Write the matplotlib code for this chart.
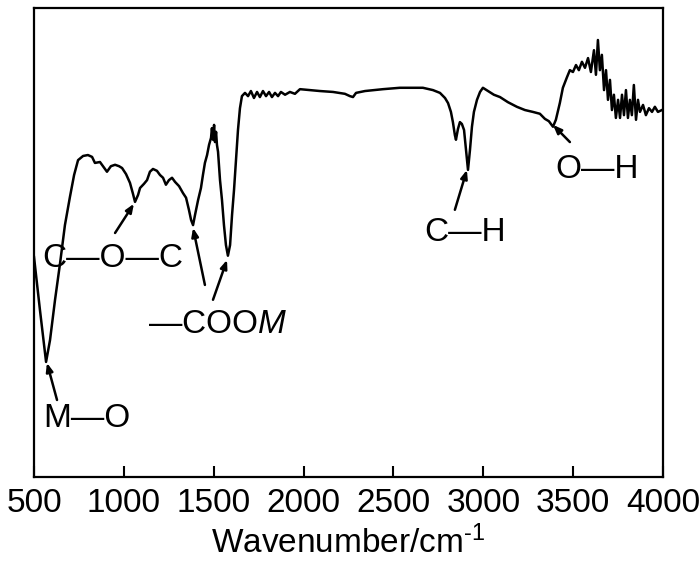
import matplotlib
matplotlib.use("Agg")
import matplotlib.pyplot as plt
import numpy as np

plt.rcParams['font.family'] = ['Liberation Sans', 'DejaVu Sans']
plt.rcParams['mathtext.fontset'] = 'custom'
plt.rcParams['mathtext.rm'] = 'Liberation Sans'
plt.rcParams['mathtext.it'] = 'Liberation Sans:italic'

# FTIR spectrum (wavenumber in cm-1, transmittance a.u.)
wavenumber = [500, 533, 567, 589, 617, 645, 672, 700, 723, 745, 773, 800, 823, 839, 867,
              884, 906, 928, 951, 973, 990, 1012, 1034, 1051, 1062, 1079, 1090, 1112, 1129,
              1145, 1162, 1184, 1201, 1218, 1234, 1251, 1268, 1285, 1307, 1329, 1346, 1362,
              1374, 1385, 1396, 1413, 1429, 1440, 1451, 1463, 1474, 1485, 1490, 1496, 1502,
              1507, 1513, 1518, 1524, 1535, 1546, 1557, 1568, 1579, 1591, 1602, 1613, 1624,
              1635, 1646, 1657, 1674, 1691, 1707, 1724, 1741, 1757, 1774, 1791, 1808, 1824,
              1841, 1858, 1874, 1897, 1924, 1952, 1980, 2036, 2091, 2164, 2230, 2258, 2275,
              2292, 2342, 2442, 2536, 2664, 2720, 2759, 2787, 2804, 2820, 2831, 2842, 2848,
              2859, 2870, 2881, 2893, 2904, 2915, 2926, 2937, 2948, 2965, 2982, 2998, 3026,
              3059, 3093, 3137, 3187, 3232, 3276, 3315, 3343, 3365, 3388, 3404, 3426, 3443,
              3466, 3482, 3499, 3516, 3532, 3549, 3566, 3583, 3599, 3616, 3627, 3638, 3649,
              3660, 3672, 3683, 3694, 3705, 3716, 3727, 3738, 3750, 3761, 3772, 3783, 3794,
              3805, 3816, 3827, 3838, 3850, 3861, 3872, 3889, 3905, 3922, 3939, 3955, 3972,
              3994]
transmittance = [46.3, 34.9, 23.7, 28.4, 37.1, 45.0, 53.2, 59.3, 64.0, 67.2, 68.1, 68.3, 67.9,
                 66.6, 66.8, 65.9, 64.7, 65.9, 66.2, 65.9, 65.5, 64.2, 62.3, 59.9, 58.2, 59.7,
                 61.2, 62.1, 62.9, 64.7, 65.3, 64.9, 64.0, 63.4, 61.9, 62.9, 63.4, 62.5, 61.6,
                 60.1, 59.1, 56.5, 54.3, 53.2, 55.4, 58.6, 61.2, 64.0, 66.6, 68.3, 70.5, 72.0,
                 74.1, 71.6, 74.8, 71.1, 73.3, 70.5, 69.0, 62.9, 58.6, 53.2, 48.9, 46.6, 48.9,
                 55.4, 60.8, 67.2, 73.7, 78.4, 81.0, 81.7, 81.0, 82.1, 80.6, 81.9, 80.8, 82.1,
                 81.0, 81.9, 80.8, 81.7, 81.0, 81.9, 81.3, 81.9, 81.5, 82.5, 82.3, 82.1, 81.9,
                 81.5, 81.0, 80.8, 81.7, 82.1, 82.5, 82.8, 82.8, 82.3, 81.7, 80.6, 79.5, 77.6,
                 75.4, 72.6, 71.6, 73.9, 75.4, 75.0, 73.7, 69.4, 65.1, 69.4, 74.4, 77.6, 80.2,
                 81.9, 82.8, 82.1, 81.3, 80.8, 79.7, 78.7, 78.0, 77.6, 77.2, 76.1, 75.6, 74.4,
                 75.9, 79.5, 82.8, 85.1, 86.6, 86.2, 87.7, 86.6, 88.4, 87.1, 89.2, 86.2, 90.9,
                 85.6, 93.1, 86.6, 89.9, 82.3, 86.6, 80.2, 84.5, 78.0, 81.3, 76.3, 80.2, 76.3,
                 81.3, 76.9, 82.3, 76.3, 80.2, 76.9, 83.4, 75.9, 80.2, 77.6, 79.1, 76.9, 78.4,
                 77.6, 78.7, 77.6, 78.0]

# band labels: (text, text position, [(arrow tail, arrow head), ...])
bands = [
    ("C\u2014O\u2014C", (940, 46.1), [((951, 51.5), (1056, 57.8))]),
    ("\u2014COO$\\mathit{M}$", (1524, 31.7), [((1451, 40.3), (1385, 52.6)),
                                               ((1496, 37.1), (1574, 45.7))]),
    ("M\u2014O", (795, 11.6), [((628, 15.5), (572, 23.5))]),
    ("C\u2014H", (2898, 51.5), [((2842, 56.5), (2909, 65.1))]),
    ("O\u2014H", (3633, 65.1), [((3482, 71.1), (3388, 74.8))]),
]

fig = plt.figure(figsize=(7.0, 5.63), dpi=100)
ax = fig.add_axes([0.0486, 0.1528, 0.8985, 0.833])

ax.plot(wavenumber, transmittance, color='black', lw=1.8)

for label, pos, arrows in bands:
    ax.text(pos[0], pos[1], label, ha='center', va='center', fontsize=24)
    for tail, head in arrows:
        ax.annotate("", xy=head, xytext=tail,
                    arrowprops=dict(arrowstyle='-|>,head_length=0.5,head_width=0.2',
                                    color='black', lw=1.8, shrinkA=0, shrinkB=0))

ax.set_xlim(500, 4000)
ax.set_ylim(-1.1, 100)
ax.set_xticks(np.arange(500, 4001, 500))
ax.set_yticks([])
ax.tick_params(axis='x', direction='in', length=8, width=1.5, labelsize=24, pad=8)
for sp in ax.spines.values():
    sp.set_linewidth(1.6)
ax.set_xlabel("Wavenumber/cm$^{\\text{-1}}$", fontsize=24, labelpad=5)

fig.savefig("out.png", dpi=100)
